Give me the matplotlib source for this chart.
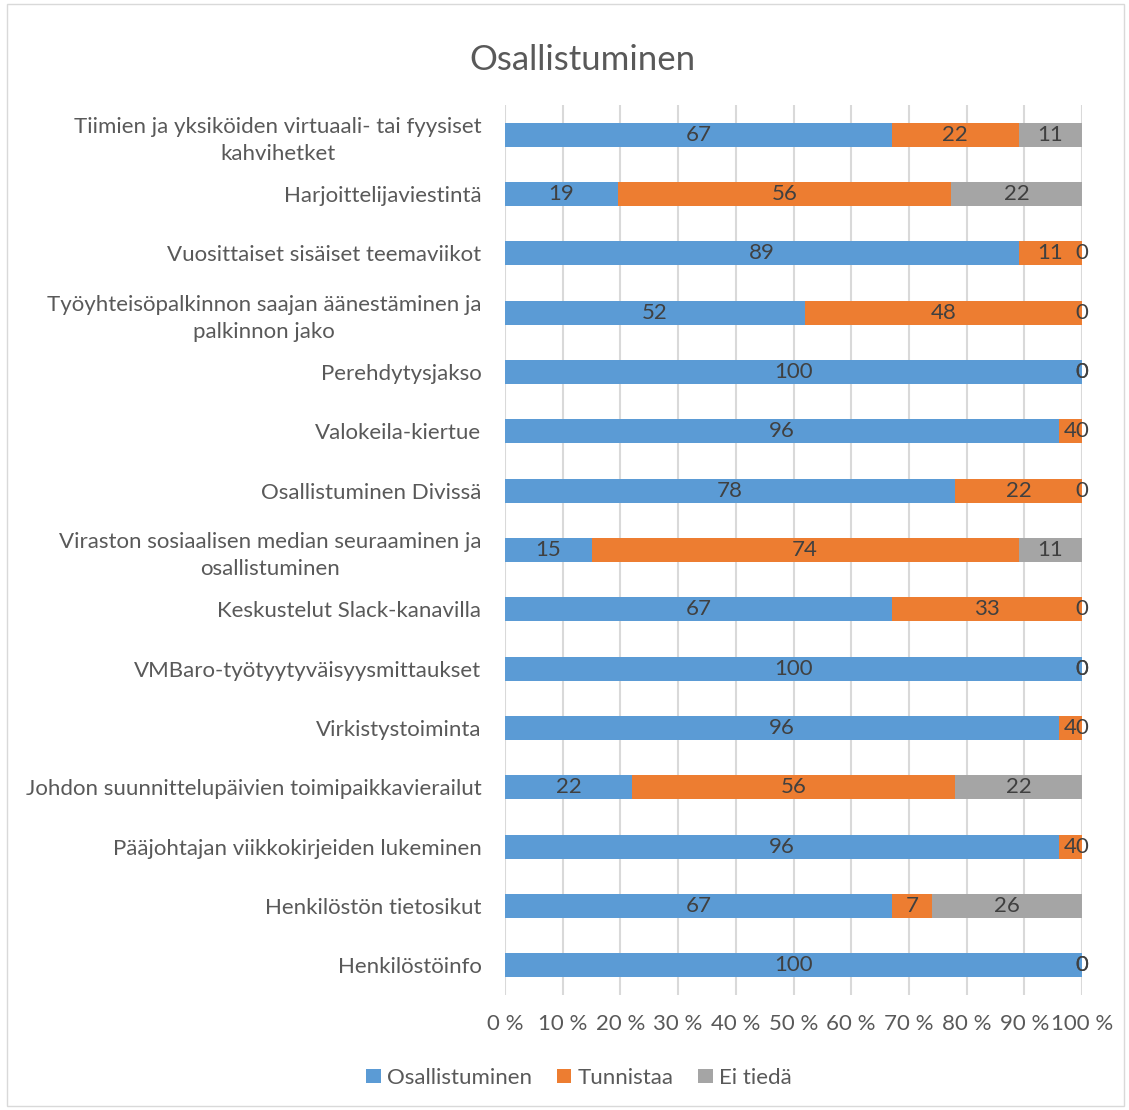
import matplotlib.pyplot as plt
import numpy as np

categories = [
    "Tiimien ja yksiköiden virtuaali- tai fyysiset\nkahvihetket",
    "Harjoittelijaviestintä",
    "Vuosittaiset sisäiset teemaviikot",
    "Työyhteisöpalkinnon saajan äänestäminen ja\npalkinnon jako",
    "Perehdytysjakso",
    "Valokeila-kiertue",
    "Osallistuminen Divissä",
    "Viraston sosiaalisen median seuraaminen ja\nosallistuminen",
    "Keskustelut Slack-kanavilla",
    "VMBaro-työtyytyväisyysmittaukset",
    "Virkistystoiminta",
    "Johdon suunnittelupäivien toimipaikkavierailut",
    "Pääjohtajan viikkokirjeiden lukeminen",
    "Henkilöstön tietosikut",
    "Henkilöstöinfo",
]
osallistuminen = [67, 19, 89, 52, 100, 96, 78, 15, 67, 100, 96, 22, 96, 67, 100]
tunnistaa = [22, 56, 11, 48, 0, 4, 22, 74, 33, 0, 4, 56, 4, 7, 0]
ei_tieda = [11, 22, 0, 0, 0, 0, 0, 11, 0, 0, 0, 22, 0, 26, 0]

series = [
    ("Osallistuminen", osallistuminen, "#5B9BD5"),
    ("Tunnistaa", tunnistaa, "#ED7D31"),
    ("Ei tiedä", ei_tieda, "#A5A5A5"),
]

plt.rcParams['font.family'] = ['Lato', 'DejaVu Sans']

fig = plt.figure(figsize=(11.29, 11.10), dpi=100)
ax = fig.add_axes([0.4473, 0.1036, 0.9584 - 0.4473, 0.9054 - 0.1036])

# chart border
fig.patches.append(plt.Rectangle((0.006, 0.004), 0.99, 0.992, transform=fig.transFigure,
                                 fill=False, edgecolor="#D9D9D9", linewidth=1))

y = np.arange(len(categories))
totals = np.array(osallistuminen) + np.array(tunnistaa) + np.array(ei_tieda)
left = np.zeros(len(categories))
for name, vals, color in series:
    vals = np.array(vals, dtype=float)
    share = vals / totals
    ax.barh(y, share, left=left, height=0.4, color=color, label=name, zorder=3)
    for i, v in enumerate(vals):
        ax.text(left[i] + share[i] / 2, y[i], f"{int(v)}", ha="center", va="center",
                fontsize=16, color="#404040", zorder=4)
    left += share

ax.set_ylim(len(categories) - 0.5, -0.5)
ax.set_xlim(0, 1)
ax.set_xticks(np.arange(0, 1.01, 0.1))
ax.set_xticklabels([f"{i} %" for i in range(0, 101, 10)])
ax.set_yticks(y)
ax.set_yticklabels(categories, ha="right", multialignment="center", linespacing=1.45)
ax.tick_params(axis="y", pad=17, length=0, labelsize=16, labelcolor="#595959")
ax.tick_params(axis="x", length=0, labelsize=16, labelcolor="#595959", pad=14)
ax.grid(axis="x", color="#D9D9D9", linewidth=1.5, zorder=0)
for s in ax.spines.values():
    s.set_visible(False)

fig.text(0.516, 0.946, "Osallistuminen", ha="center", va="center", fontsize=25, color="#595959")

fig.legend(loc="center", bbox_to_anchor=(0.513, 0.029), ncol=3, frameon=False,
           fontsize=16, labelcolor="#595959", handlelength=0.65, handleheight=0.65,
           handletextpad=0.3, columnspacing=1.1)

fig.savefig("out.png", dpi=100)
